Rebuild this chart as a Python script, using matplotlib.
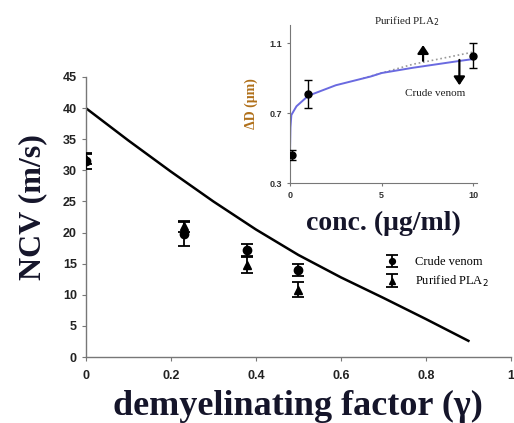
import matplotlib
matplotlib.use("Agg")
import matplotlib.pyplot as plt

# ---- main chart data ----
gamma_curve = [0.0, 0.1, 0.2, 0.3, 0.4, 0.5, 0.6, 0.7, 0.8, 0.9]
ncv_curve = [40.0, 34.8, 29.8, 25.0, 20.5, 16.4, 12.8, 9.5, 6.1, 2.6]

crude_x = [0.0, 0.23, 0.38, 0.50]
crude_y = [31.5, 19.8, 17.2, 14.0]
crude_err = [1.3, 1.9, 1.0, 1.0]

pla_x = [0.0, 0.23, 0.38, 0.50]
pla_y = [31.8, 21.0, 14.8, 10.8]
pla_err = [0.8, 0.9, 1.3, 1.2]

main_yticks = [0, 5, 10, 15, 20, 25, 30, 35, 40, 45]
main_xticks = [0, 0.2, 0.4, 0.6, 0.8, 1]
main_xticklabels = ["0", "0.2", "0.4", "0.6", "0.8", "1"]

# ---- inset data ----
conc_fit = [0.0, 0.01, 0.03, 0.08, 0.36, 1.0, 2.5, 4.4, 5.0, 6.7, 9.3, 10.0]
dd_fit = [0.30, 0.50, 0.62, 0.69, 0.74, 0.80, 0.86, 0.91, 0.93, 0.96, 1.00, 1.01]
conc_dot = [4.0, 5.0, 6.7, 10.0]
dd_dot = [0.90, 0.93, 0.98, 1.05]
conc_pts = [0.1, 1.0, 10.0]
dd_pts = [0.46, 0.81, 1.03]
dd_err = [0.03, 0.08, 0.07]
inset_yticks = [0.3, 0.7, 1.1]
inset_xticks = [0, 5, 10]

fig = plt.figure(figsize=(5.14, 4.23), dpi=100)
serif = "Liberation Serif"
sans = "Liberation Sans"

ax = fig.add_axes([0.167, 0.156, 0.827, 0.662])
ax.plot(gamma_curve, ncv_curve, color="black", lw=1.8, zorder=2)
ax.errorbar(crude_x, crude_y, yerr=crude_err, fmt="o", color="black",
            ms=6, capsize=4, capthick=1.3, elinewidth=1.3, zorder=3,
            label="Crude venom")
ax.errorbar(pla_x, pla_y, yerr=pla_err, fmt="^", color="black",
            ms=6, capsize=4, capthick=1.3, elinewidth=1.3, zorder=3,
            label="Purified PLA$_2$")
ax.set_xlim(0, 1)
ax.set_ylim(0, 45)
ax.set_xticks(main_xticks)
ax.set_xticklabels(main_xticklabels)
ax.set_yticks(main_yticks)
for s in ["top", "right"]:
    ax.spines[s].set_visible(False)
for s in ["left", "bottom"]:
    ax.spines[s].set_color("#777777")
    ax.spines[s].set_linewidth(1.0)
ax.tick_params(axis="both", direction="out", length=3, color="#777777",
               labelsize=9)
for lab in ax.get_xticklabels() + ax.get_yticklabels():
    lab.set_fontfamily(sans)
    lab.set_fontweight("bold")
    lab.set_color("#222222")
ax.tick_params(axis="x", pad=6)
ax.set_xlabel("demyelinating factor (γ)", fontfamily=serif, fontweight="bold",
              fontsize=26, color="#15152a", labelpad=6)
ax.set_ylabel("NCV (m/s)", fontfamily=serif, fontweight="bold",
              fontsize=23, color="#15152a")
ax.yaxis.set_label_coords(-0.092, 0.535)
leg = ax.legend(loc="upper left", bbox_to_anchor=(0.68, 0.40), frameon=False,
                prop={"family": serif, "size": 9}, handlelength=1.0,
                handletextpad=1.3, labelspacing=0.45, markerscale=0.7)

# ---- inset ----
ins = fig.add_axes([0.564, 0.567, 0.364, 0.374])
ins.plot(conc_dot, dd_dot, color="#999999", lw=1.2, ls=":", zorder=2)
ins.plot(conc_fit, dd_fit, color="#6a6ae0", lw=1.4, zorder=2)
ins.errorbar(conc_pts, dd_pts, yerr=dd_err, fmt="o", color="black", ms=5,
             capsize=3, capthick=1.0, elinewidth=1.0, zorder=3)
ins.set_xlim(0, 10.2)
ins.set_ylim(0.3, 1.205)
ins.set_xticks(inset_xticks)
ins.set_yticks(inset_yticks)
ins.set_yticklabels([f"{v:.1f}" for v in inset_yticks])
for s in ["top", "right"]:
    ins.spines[s].set_visible(False)
for s in ["left", "bottom"]:
    ins.spines[s].set_color("#777777")
ins.tick_params(axis="both", direction="out", length=2, color="#777777",
                labelsize=6.5)
for lab in ins.get_xticklabels() + ins.get_yticklabels():
    lab.set_fontfamily(sans)
    lab.set_fontweight("bold")
    lab.set_color("#333333")
ins.set_xlabel("conc. (μg/ml)", fontfamily=serif, fontweight="bold",
               fontsize=20, color="#15152a", labelpad=8)
ins.set_ylabel("ΔD (μm)", fontfamily=serif, fontweight="bold",
               fontsize=10, color="#b0701a", labelpad=8)
arrow_style = dict(arrowstyle="-|>,head_length=0.45,head_width=0.3",
                   color="black", lw=1.6, shrinkA=0, shrinkB=0,
                   mutation_scale=11)
ins.annotate("", xy=(7.26, 1.09), xytext=(7.26, 1.00), arrowprops=arrow_style)
ins.text(6.4, 1.225, "Purified PLA$_2$", fontfamily=serif, fontsize=8,
         ha="center", va="center", color="#222222", clip_on=False)
ins.annotate("", xy=(9.24, 0.86), xytext=(9.24, 1.005), arrowprops=arrow_style)
ins.text(7.9, 0.815, "Crude venom", fontfamily=serif, fontsize=8,
         ha="center", va="center", color="#222222")

fig.savefig("out.png", dpi=100)
